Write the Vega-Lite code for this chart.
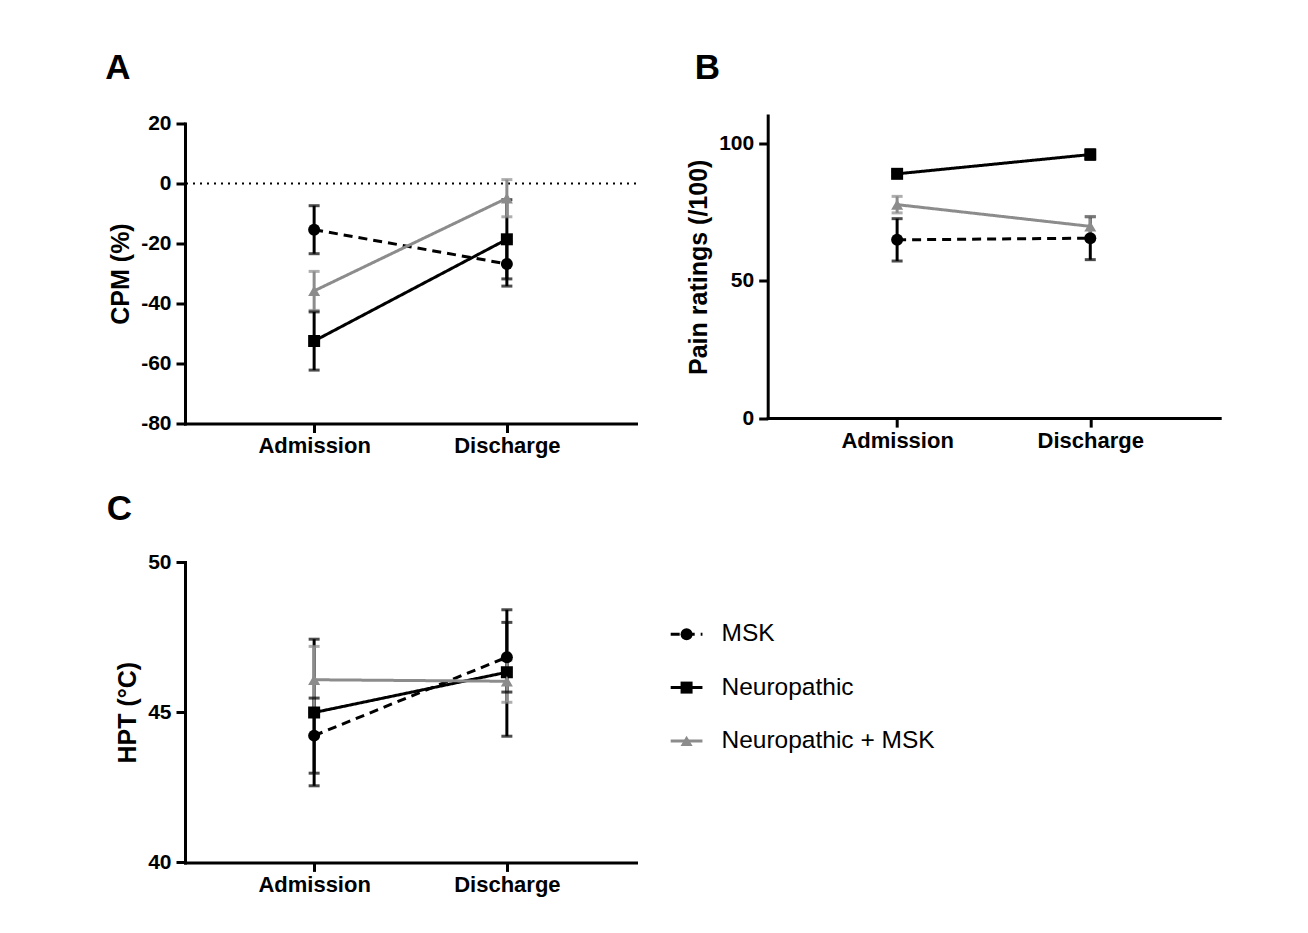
{
  "$schema": "https://vega.github.io/schema/vega-lite/v6.json",
  "background": "white",
  "padding": {"left": 105, "top": 49.5, "right": 5, "bottom": 5},
  "config": {
    "font": "Liberation Sans",
    "view": {"stroke": null},
    "axis": {
      "domainColor": "#000", "domainWidth": 3, "domainCap": "square",
      "tickColor": "#000", "tickWidth": 3, "tickSize": 9,
      "labelFont": "Liberation Sans", "labelFontWeight": "bold", "labelColor": "#000",
      "grid": false,
      "titleFont": "Liberation Sans", "titleFontWeight": "bold", "titleFontSize": 25, "titleColor": "#000"
    },
    "axisX": {"labelFontSize": 22, "labelPadding": 3, "labelAngle": 0},
    "axisY": {"labelFontSize": 21, "labelPadding": 5, "titlePadding": 7, "labelExpr": "'' + datum.value"},
    "title": {"font": "Liberation Sans", "fontSize": 35, "fontWeight": "bold", "color": "#000", "anchor": "start"}
  },
  "datasets": {
    "cpm": [
      {"time": "Admission", "group": "MSK", "mean": -15.4, "lo": -23.4, "hi": -7.4},
      {"time": "Discharge", "group": "MSK", "mean": -26.8, "lo": -34.2, "hi": -19.4},
      {"time": "Admission", "group": "Neuropathic", "mean": -52.5, "lo": -62.2, "hi": -42.8},
      {"time": "Discharge", "group": "Neuropathic", "mean": -18.6, "lo": -31.8, "hi": -5.4},
      {"time": "Admission", "group": "Neuropathic + MSK", "mean": -35.8, "lo": -42.3, "hi": -29.3},
      {"time": "Discharge", "group": "Neuropathic + MSK", "mean": -4.9, "lo": -11.1, "hi": 1.3}
    ],
    "pain": [
      {"time": "Admission", "group": "MSK", "mean": 64.8, "lo": 57.1, "hi": 72.5},
      {"time": "Discharge", "group": "MSK", "mean": 65.4, "lo": 57.6, "hi": 73.2},
      {"time": "Admission", "group": "Neuropathic", "mean": 88.8, "lo": 88.0, "hi": 89.6},
      {"time": "Discharge", "group": "Neuropathic", "mean": 95.8, "lo": 94.0, "hi": 97.6},
      {"time": "Admission", "group": "Neuropathic + MSK", "mean": 77.6, "lo": 74.6, "hi": 80.6},
      {"time": "Discharge", "group": "Neuropathic + MSK", "mean": 69.7, "lo": 66.1, "hi": 73.3}
    ],
    "hpt": [
      {"time": "Admission", "group": "MSK", "mean": 44.22, "lo": 42.97, "hi": 45.47},
      {"time": "Discharge", "group": "MSK", "mean": 46.83, "lo": 45.67, "hi": 47.99},
      {"time": "Admission", "group": "Neuropathic", "mean": 44.99, "lo": 42.55, "hi": 47.43},
      {"time": "Discharge", "group": "Neuropathic", "mean": 46.33, "lo": 44.2, "hi": 48.41},
      {"time": "Admission", "group": "Neuropathic + MSK", "mean": 46.08, "lo": 44.97, "hi": 47.19},
      {"time": "Discharge", "group": "Neuropathic + MSK", "mean": 46.03, "lo": 45.33, "hi": 46.73}
    ],
    "legend": [
      {"group": "MSK"},
      {"group": "Neuropathic"},
      {"group": "Neuropathic + MSK"}
    ]
  },
  "hconcat": [
    {
      "vconcat": [
        {"width": 1, "height": 1, "data": {"values": []}, "mark": {"type": "point", "opacity": 0}, "encoding": {}},
        {
          "vconcat": [
            {
              "title": {"text": "A", "dx": -3.5, "offset": 26.8},
              "width": 451, "height": 300,
              "data": {"name": "cpm"},
              "layer": [
                {
                  "data": {"values": [{}]},
                  "mark": {"type": "rule", "strokeDash": [2, 5], "strokeWidth": 2.2, "color": "#000"},
                  "encoding": {"y": {"datum": 0, "type": "quantitative"}}
                },
                {
                  "mark": {"type": "rule", "strokeWidth": 3},
                  "encoding": {
                    "x": {"field": "time", "type": "ordinal", "sort": ["Admission", "Discharge"], "scale": {"type": "point", "padding": 0.67}, "axis": {"title": null}},
                    "y": {"field": "lo", "type": "quantitative", "scale": {"domain": [-80, 20], "nice": false, "zero": false}, "axis": {"title": "CPM (%)", "values": [-80, -60, -40, -20, 0, 20]}},
                    "y2": {"field": "hi"},
                    "color": {"field": "group", "type": "nominal", "scale": {"domain": ["MSK", "Neuropathic", "Neuropathic + MSK"], "range": ["#000000", "#000000", "#8c8c8c"]}, "legend": null}
                  }
                },
                {
                  "mark": {"type": "tick", "orient": "horizontal", "size": 11, "thickness": 3},
                  "encoding": {
                    "x": {"field": "time", "type": "ordinal", "sort": ["Admission", "Discharge"]},
                    "y": {"field": "lo", "type": "quantitative"},
                    "color": {"field": "group", "type": "nominal", "legend": null}
                  }
                },
                {
                  "mark": {"type": "tick", "orient": "horizontal", "size": 11, "thickness": 3},
                  "encoding": {
                    "x": {"field": "time", "type": "ordinal", "sort": ["Admission", "Discharge"]},
                    "y": {"field": "hi", "type": "quantitative"},
                    "color": {"field": "group", "type": "nominal", "legend": null}
                  }
                },
                {
                  "mark": {"type": "line", "strokeWidth": 3},
                  "encoding": {
                    "x": {"field": "time", "type": "ordinal", "sort": ["Admission", "Discharge"]},
                    "y": {"field": "mean", "type": "quantitative"},
                    "color": {"field": "group", "type": "nominal", "legend": null},
                    "strokeDash": {"field": "group", "type": "nominal", "scale": {"domain": ["MSK", "Neuropathic", "Neuropathic + MSK"], "range": [[9, 6], [1, 0], [1, 0]]}, "legend": null}
                  }
                },
                {
                  "mark": {"type": "point", "filled": true, "opacity": 1, "size": 144},
                  "encoding": {
                    "x": {"field": "time", "type": "ordinal", "sort": ["Admission", "Discharge"]},
                    "y": {"field": "mean", "type": "quantitative"},
                    "color": {"field": "group", "type": "nominal", "legend": null},
                    "shape": {"field": "group", "type": "nominal", "scale": {"domain": ["MSK", "Neuropathic", "Neuropathic + MSK"], "range": ["circle", "square", "triangle-up"]}, "legend": null}
                  }
                }
              ]
            },
            {
              "title": {"text": "C", "dx": -9, "offset": 23.8},
              "width": 451, "height": 300.4,
              "data": {"name": "hpt"},
              "layer": [
                {
                  "mark": {"type": "rule", "strokeWidth": 3},
                  "encoding": {
                    "x": {"field": "time", "type": "ordinal", "sort": ["Admission", "Discharge"], "scale": {"type": "point", "padding": 0.67}, "axis": {"title": null}},
                    "y": {"field": "lo", "type": "quantitative", "scale": {"domain": [40, 50], "nice": false, "zero": false}, "axis": {"title": "HPT (°C)", "values": [40, 45, 50]}},
                    "y2": {"field": "hi"},
                    "color": {"field": "group", "type": "nominal", "scale": {"domain": ["MSK", "Neuropathic", "Neuropathic + MSK"], "range": ["#000000", "#000000", "#8c8c8c"]}, "legend": null}
                  }
                },
                {
                  "mark": {"type": "tick", "orient": "horizontal", "size": 11, "thickness": 3},
                  "encoding": {
                    "x": {"field": "time", "type": "ordinal", "sort": ["Admission", "Discharge"]},
                    "y": {"field": "lo", "type": "quantitative"},
                    "color": {"field": "group", "type": "nominal", "legend": null}
                  }
                },
                {
                  "mark": {"type": "tick", "orient": "horizontal", "size": 11, "thickness": 3},
                  "encoding": {
                    "x": {"field": "time", "type": "ordinal", "sort": ["Admission", "Discharge"]},
                    "y": {"field": "hi", "type": "quantitative"},
                    "color": {"field": "group", "type": "nominal", "legend": null}
                  }
                },
                {
                  "mark": {"type": "line", "strokeWidth": 3},
                  "encoding": {
                    "x": {"field": "time", "type": "ordinal", "sort": ["Admission", "Discharge"]},
                    "y": {"field": "mean", "type": "quantitative"},
                    "color": {"field": "group", "type": "nominal", "legend": null},
                    "strokeDash": {"field": "group", "type": "nominal", "scale": {"domain": ["MSK", "Neuropathic", "Neuropathic + MSK"], "range": [[9, 6], [1, 0], [1, 0]]}, "legend": null}
                  }
                },
                {
                  "mark": {"type": "point", "filled": true, "opacity": 1, "size": 144},
                  "encoding": {
                    "x": {"field": "time", "type": "ordinal", "sort": ["Admission", "Discharge"]},
                    "y": {"field": "mean", "type": "quantitative"},
                    "color": {"field": "group", "type": "nominal", "legend": null},
                    "shape": {"field": "group", "type": "nominal", "scale": {"domain": ["MSK", "Neuropathic", "Neuropathic + MSK"], "range": ["circle", "square", "triangle-up"]}, "legend": null}
                  }
                }
              ]
            }
          ],
          "spacing": 35.5
        }
      ],
      "spacing": 0
    },
    {
      "vconcat": [
        {"width": 1, "height": 1, "data": {"values": []}, "mark": {"type": "point", "opacity": 0}, "encoding": {}},
        {
          "vconcat": [
            {
              "title": {"text": "B", "dx": 8, "offset": 29.6},
              "width": 452, "height": 302.6,
              "data": {"name": "pain"},
              "layer": [
                {
                  "mark": {"type": "rule", "strokeWidth": 3},
                  "encoding": {
                    "x": {"field": "time", "type": "ordinal", "sort": ["Admission", "Discharge"], "scale": {"type": "point", "padding": 0.67}, "axis": {"title": null}},
                    "y": {"field": "lo", "type": "quantitative", "scale": {"domain": [0, 110], "nice": false, "zero": false}, "axis": {"title": "Pain ratings (/100)", "values": [0, 50, 100]}},
                    "y2": {"field": "hi"},
                    "color": {"field": "group", "type": "nominal", "scale": {"domain": ["MSK", "Neuropathic", "Neuropathic + MSK"], "range": ["#000000", "#000000", "#8c8c8c"]}, "legend": null}
                  }
                },
                {
                  "mark": {"type": "tick", "orient": "horizontal", "size": 11, "thickness": 3},
                  "encoding": {
                    "x": {"field": "time", "type": "ordinal", "sort": ["Admission", "Discharge"]},
                    "y": {"field": "lo", "type": "quantitative"},
                    "color": {"field": "group", "type": "nominal", "legend": null}
                  }
                },
                {
                  "mark": {"type": "tick", "orient": "horizontal", "size": 11, "thickness": 3},
                  "encoding": {
                    "x": {"field": "time", "type": "ordinal", "sort": ["Admission", "Discharge"]},
                    "y": {"field": "hi", "type": "quantitative"},
                    "color": {"field": "group", "type": "nominal", "legend": null}
                  }
                },
                {
                  "mark": {"type": "line", "strokeWidth": 3},
                  "encoding": {
                    "x": {"field": "time", "type": "ordinal", "sort": ["Admission", "Discharge"]},
                    "y": {"field": "mean", "type": "quantitative"},
                    "color": {"field": "group", "type": "nominal", "legend": null},
                    "strokeDash": {"field": "group", "type": "nominal", "scale": {"domain": ["MSK", "Neuropathic", "Neuropathic + MSK"], "range": [[9, 6], [1, 0], [1, 0]]}, "legend": null}
                  }
                },
                {
                  "mark": {"type": "point", "filled": true, "opacity": 1, "size": 144},
                  "encoding": {
                    "x": {"field": "time", "type": "ordinal", "sort": ["Admission", "Discharge"]},
                    "y": {"field": "mean", "type": "quantitative"},
                    "color": {"field": "group", "type": "nominal", "legend": null},
                    "shape": {"field": "group", "type": "nominal", "scale": {"domain": ["MSK", "Neuropathic", "Neuropathic + MSK"], "range": ["circle", "square", "triangle-up"]}, "legend": null}
                  }
                }
              ]
            },
            {
              "width": 270, "height": 248.6,
              "data": {"name": "legend"},
              "layer": [
                {
                  "mark": {"type": "rule", "strokeWidth": 3},
                  "encoding": {
                    "x": {"datum": 0, "type": "quantitative", "scale": {"domain": [3.054, 11.554], "nice": false, "zero": false}, "axis": null},
                    "x2": {"datum": 1},
                    "y": {"field": "group", "type": "nominal", "sort": ["MSK", "Neuropathic", "Neuropathic + MSK"], "scale": {"type": "band", "paddingInner": 0, "paddingOuter": 0.832}, "axis": null},
                    "color": {"field": "group", "type": "nominal", "scale": {"domain": ["MSK", "Neuropathic", "Neuropathic + MSK"], "range": ["#000000", "#000000", "#8c8c8c"]}, "legend": null},
                    "strokeDash": {"field": "group", "type": "nominal", "scale": {"domain": ["MSK", "Neuropathic", "Neuropathic + MSK"], "range": [[9, 6], [1, 0], [1, 0]]}, "legend": null}
                  }
                },
                {
                  "mark": {"type": "point", "filled": true, "opacity": 1, "size": 144},
                  "encoding": {
                    "x": {"datum": 0.5, "type": "quantitative"},
                    "y": {"field": "group", "type": "nominal", "sort": ["MSK", "Neuropathic", "Neuropathic + MSK"]},
                    "color": {"field": "group", "type": "nominal", "legend": null},
                    "shape": {"field": "group", "type": "nominal", "scale": {"domain": ["MSK", "Neuropathic", "Neuropathic + MSK"], "range": ["circle", "square", "triangle-up"]}, "legend": null}
                  }
                },
                {
                  "mark": {"type": "text", "align": "left", "baseline": "middle", "fontSize": 24.5, "font": "Liberation Sans", "color": "#000"},
                  "encoding": {
                    "x": {"datum": 1.6, "type": "quantitative"},
                    "y": {"field": "group", "type": "nominal", "sort": ["MSK", "Neuropathic", "Neuropathic + MSK"]},
                    "text": {"field": "group"}
                  }
                }
              ]
            }
          ],
          "spacing": 111.8
        }
      ],
      "spacing": 0
    }
  ],
  "spacing": 30.7
}
